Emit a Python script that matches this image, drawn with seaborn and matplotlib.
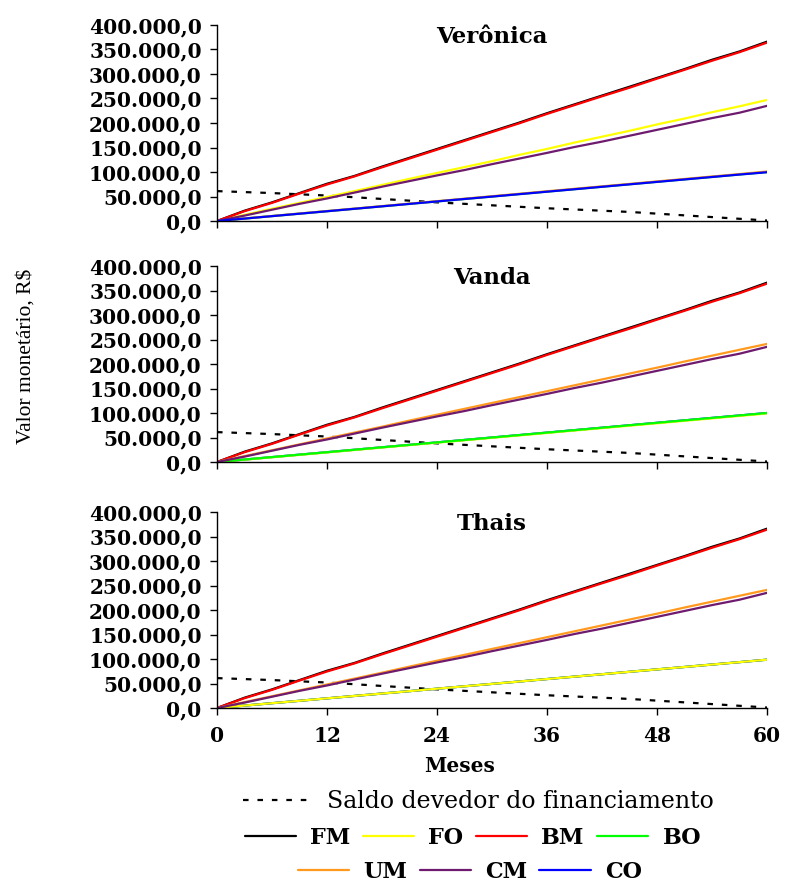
import numpy as np
import pandas as pd
import matplotlib
matplotlib.use("Agg")
import matplotlib.pyplot as plt
from matplotlib.ticker import FuncFormatter, MultipleLocator
from matplotlib.lines import Line2D
import seaborn as sns

# ---------------- data ----------------
meses = [0, 3, 6, 9, 12, 15, 18, 21, 24, 27, 30, 33, 36, 39, 42, 45, 48, 51, 54, 57, 60]

saldo = [61000, 59000, 57000, 54500, 52000, 48500, 45000, 41500, 38000, 35000, 32000,
         29000, 26000, 23500, 21000, 18500, 15000, 11500, 8000, 4500, 1000]

fm = [0, 21000, 38000, 57000, 76000, 92000, 111000, 129000, 147000, 165000, 183000,
      201000, 220000, 238000, 256000, 274000, 292000, 310000, 329000, 346000, 366000]
bm = [0, 20000, 37000, 56000, 74500, 91000, 109500, 127500, 145500, 163500, 181500,
      199500, 218500, 236500, 254500, 272000, 290500, 308500, 327000, 344500, 364000]

# Verônica
ver_fo = [0, 12500, 25000, 37000, 49000, 61000, 73500, 86000, 98000, 110000, 122000,
          135000, 147000, 160000, 172000, 184000, 197000, 209000, 222000, 234000, 247000]
ver_cm = [0, 11000, 23000, 35000, 46000, 58000, 70000, 81500, 93000, 104000, 116000,
          127500, 139000, 151000, 162000, 174000, 186000, 198000, 210000, 221000, 235000]
ver_um = [0, 5200, 10200, 15300, 20300, 25300, 30400, 35500, 40500, 45500, 50600,
          55600, 60700, 65700, 70700, 75700, 80800, 85800, 90800, 95800, 101000]
ver_bo = [0, 5000, 10000, 15000, 20000, 25000, 30000, 35000, 40000, 45000, 50000,
          55000, 60000, 65000, 70000, 75000, 80000, 85000, 90000, 95000, 100000]
ver_co = [0, 4900, 9900, 14900, 19900, 24900, 29900, 34900, 39900, 44900, 49800,
          54800, 59800, 64800, 69800, 74800, 79800, 84800, 89800, 94800, 99500]

# Vanda
van_um = [0, 12000, 24000, 36000, 48000, 60000, 72000, 84500, 96500, 108500, 120500,
          132500, 144500, 156500, 168500, 180500, 192500, 205000, 217000, 229000, 241000]
van_cm = [0, 11000, 23000, 35000, 46000, 58000, 70000, 81500, 93000, 104000, 116000,
          127500, 139000, 151000, 162000, 174000, 186000, 198000, 210000, 221000, 235000]
van_bo = [0, 5000, 10000, 15000, 20000, 25000, 30000, 35000, 40000, 45000, 50000,
          55000, 60000, 65000, 70000, 75000, 80000, 85000, 90000, 95000, 100000]
van_fo = [0, 4700, 9600, 14500, 19500, 24500, 29500, 34500, 39400, 44300, 49300,
          54200, 59200, 64200, 69100, 74000, 79000, 84000, 89000, 94000, 99000]
van_co = van_bo

# Thais
tha_um = [0, 12000, 24000, 36000, 48000, 60000, 72000, 84500, 96500, 108500, 120500,
          132500, 144500, 156500, 168500, 180500, 192500, 205000, 217000, 229000, 241000]
tha_cm = [0, 11000, 23000, 35000, 46000, 58000, 70000, 81500, 93000, 104000, 116000,
          127500, 139000, 151000, 162000, 174000, 186000, 198000, 210000, 221000, 235000]
tha_fo = [0, 4900, 9800, 14700, 19700, 24600, 29500, 34400, 39400, 44300, 49200,
          54100, 59100, 64000, 68900, 73900, 78800, 83700, 88700, 93600, 98600]
tha_bo = tha_fo
tha_co = tha_fo

panels = ["Verônica", "Vanda", "Thais"]
series = {
    "Verônica": {"FM": fm, "FO": ver_fo, "BM": bm, "BO": ver_bo, "UM": ver_um, "CM": ver_cm, "CO": ver_co},
    "Vanda": {"FM": fm, "FO": van_fo, "BM": bm, "BO": van_bo, "UM": van_um, "CM": van_cm, "CO": van_co},
    "Thais": {"FM": fm, "FO": tha_fo, "BM": bm, "BO": tha_bo, "UM": tha_um, "CM": tha_cm, "CO": tha_co},
}
draw_order = {
    "Verônica": ["FM", "FO", "BM", "BO", "UM", "CM", "CO"],
    "Vanda": ["CO", "FO", "BO", "FM", "BM", "UM", "CM"],
    "Thais": ["BO", "CO", "FO", "FM", "BM", "UM", "CM"],
}
legend_order = ["FM", "FO", "BM", "BO", "UM", "CM", "CO"]
colors = {"FM": "#000000", "FO": "#FFFF00", "BM": "#FF0000", "BO": "#00FF00",
          "UM": "#FF9A1E", "CM": "#6E1A6E", "CO": "#0000FF"}

# ---------------- style ----------------
sns.set_style("ticks")
plt.rcParams["font.family"] = ["DejaVu Serif"]
plt.rcParams["axes.linewidth"] = 1.0
for key in ["text.color", "axes.labelcolor", "xtick.color", "ytick.color", "axes.edgecolor"]:
    plt.rcParams[key] = "black"

fig = plt.figure(figsize=(7.87, 8.84), dpi=100)

L, R = 217 / 787, 767 / 787
tops = [25, 266, 512]
bots = [221, 462, 708]

fmt = FuncFormatter(lambda v, p: f"{v:,.1f}".replace(",", "X").replace(".", ",").replace("X", "."))

axes = []
for i, name in enumerate(panels):
    b = 1 - bots[i] / 884
    h = (bots[i] - tops[i]) / 884
    ax = fig.add_axes([L, b, R - L, h])
    axes.append(ax)
    df = pd.DataFrame({"Meses": meses, "Saldo": saldo})
    sns.lineplot(data=df, x="Meses", y="Saldo", ax=ax, color="black", lw=1.6,
                 linestyle=(0, (2.5, 4.0)), legend=False)
    rows = []
    for k in draw_order[name]:
        for m, v in zip(meses, series[name][k]):
            rows.append({"Meses": m, "Valor": v, "Serie": k})
    long = pd.DataFrame(rows)
    sns.lineplot(data=long, x="Meses", y="Valor", hue="Serie", hue_order=draw_order[name],
                 palette=colors, ax=ax, lw=1.6, estimator=None, legend=False)
    ax.set_xlim(0, 60)
    ax.set_ylim(0, 400000)
    ax.xaxis.set_major_locator(MultipleLocator(12))
    ax.yaxis.set_major_locator(MultipleLocator(50000))
    ax.yaxis.set_major_formatter(fmt)
    ax.set_xlabel("")
    ax.set_ylabel("")
    for s in ["top", "right"]:
        ax.spines[s].set_visible(False)
    ax.tick_params(axis="both", direction="out", length=5, width=1, color="black",
                   labelcolor="black")
    ax.tick_params(axis="y", pad=6, labelsize=14.5)
    ax.tick_params(axis="x", pad=8, labelsize=14.5)
    for t in ax.get_yticklabels() + ax.get_xticklabels():
        t.set_fontweight("bold")
    if i < 2:
        ax.set_xticklabels([])
    ax.text(0.5, 0.995, name, transform=ax.transAxes, ha="center", va="top",
            fontsize=16.5, fontweight="bold", color="black")
    ax.patch.set_alpha(0)

fig.text(460 / 787, 1 - 766 / 884, "Meses", ha="center", va="center",
         fontsize=14.5, fontweight="bold", color="black")
fig.text(26 / 787, 1 - 356 / 884, "Valor monetário, R$", rotation=90,
         ha="center", va="center", fontsize=15.5, family=["Liberation Serif"], color="black")

# ---------------- legends ----------------
def h(k):
    return Line2D([], [], color=colors[k], lw=1.6)

leg_kw = dict(frameon=False, borderpad=0, handlelength=2.3, handletextpad=0.65,
              columnspacing=0.55, prop={"weight": "bold", "size": 16},
              labelcolor="black")
saldo_h = Line2D([], [], color="black", lw=1.6, linestyle=(0, (2.5, 4.0)))
fig.legend([saldo_h], ["Saldo devedor do financiamento"], loc="center",
           bbox_to_anchor=(478 / 787, 1 - 802 / 884), handlelength=3.0,
           handletextpad=0.55, frameon=False, borderpad=0,
           prop={"size": 17}, labelcolor="black")
fig.legend([h(k) for k in legend_order[:4]], legend_order[:4], ncol=4, loc="center",
           bbox_to_anchor=(473 / 787, 1 - 838 / 884), **leg_kw)
fig.legend([h(k) for k in legend_order[4:]], legend_order[4:], ncol=3, loc="center",
           bbox_to_anchor=(470 / 787, 1 - 872 / 884), **leg_kw)

fig.savefig("out.png", dpi=100)
